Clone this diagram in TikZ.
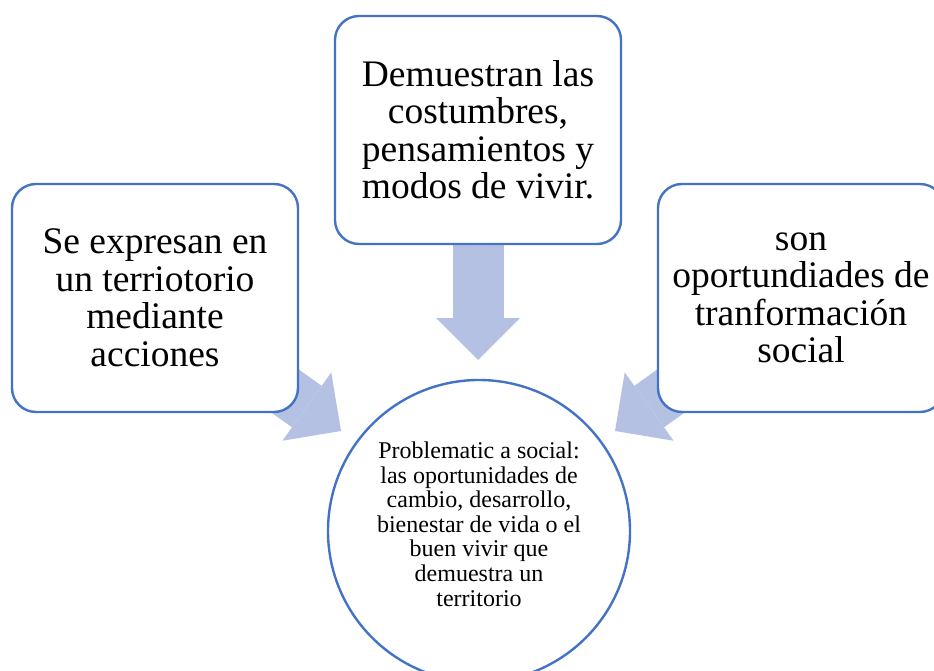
\documentclass[tikz,border=0pt]{standalone}
\usepackage{fontspec}
\setmainfont{Liberation Serif}
\usetikzlibrary{arrows.meta,positioning,backgrounds}
\definecolor{boxblue}{RGB}{68,114,196}
\definecolor{arrowblue}{RGB}{180,193,226}

\begin{document}
\begin{tikzpicture}[x=1pt,y=-1pt,
	idea/.style={draw=boxblue, line width=2.4pt, fill=white, rounded corners=24pt, minimum width=286pt, minimum height=228pt, inner sep=0pt, align=center, font=\fontsize{37.5}{37.5}\selectfont},
	core/.style={circle, draw=boxblue, line width=2.4pt, fill=white, minimum size=302pt, inner sep=0pt},
	coretext/.style={align=center, inner sep=0pt, font=\fontsize{24}{24.6}\selectfont},
	flow/.style={arrowblue, line width=51pt, -{Triangle[length=42pt,width=84pt,line width=0pt]}}]
	\useasboundingbox (0,0) rectangle (934,671);
	\clip (0,0) rectangle (934,671);

	\node[core] (prob) at (479,531) {};
	\node[coretext] (probtext) at ([yshift=7pt]prob.center) {Problematic a social:\\las oportunidades de\\cambio, desarrollo,\\bienestar de vida o el\\buen vivir que\\demuestra un\\territorio};
	\node[idea] (cost) at (478,130) {Demuestran las\\costumbres,\\pensamientos y\\modos de vivir.};
	\node[idea] (terr) at (155,298) {Se expresan en\\un terriotorio\\mediante\\acciones};
	\node[idea] (opor) at (801,298) {son\\oportundiades de\\tranformación\\social};

	\coordinate (tcost) at (478,360);
	\coordinate (tterr) at (341,431);
	\coordinate (topor) at (615,431);

	\begin{scope}[on background layer]
		\draw[flow] (cost.center) -- (tcost);
		\draw[flow] (terr.center) -- (tterr);
		\draw[flow] (opor.center) -- (topor);
	\end{scope}
\end{tikzpicture}
\end{document}
